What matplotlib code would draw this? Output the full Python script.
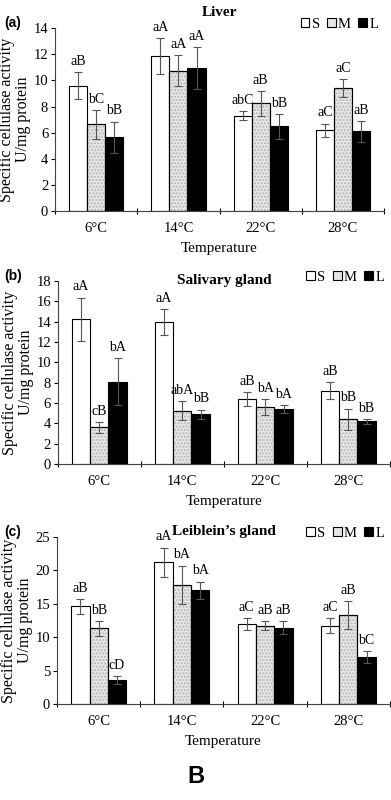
import numpy as np
import matplotlib
matplotlib.use("Agg")
import matplotlib.pyplot as plt
from matplotlib.patches import Patch

plt.rcParams['font.family'] = ['Liberation Serif', 'DejaVu Serif']

temps = ['6°C', '14°C', '22°C', '28°C']
sizes = ['S', 'M', 'L']

# Liver
liver_mean = [[9.6, 11.85, 7.3, 6.2],
              [6.65, 10.75, 8.25, 9.4],
              [5.65, 10.95, 6.5, 6.1]]
liver_err = [[1.0, 1.4, 0.35, 0.5],
             [1.1, 1.15, 0.95, 0.7],
             [1.2, 1.6, 0.95, 0.8]]
liver_lbl = [['aB', 'aA', 'abC', 'aC'],
             ['bC', 'aA', 'aB', 'aC'],
             ['bB', 'aA', 'bB', 'aB']]

# Salivary gland
saliv_mean = [[14.2, 13.95, 6.35, 7.2],
              [3.6, 5.25, 5.6, 4.4],
              [8.1, 4.9, 5.4, 4.2]]
saliv_err = [[2.15, 1.3, 0.7, 0.85],
             [0.55, 0.9, 0.8, 1.05],
             [2.3, 0.45, 0.35, 0.25]]
saliv_lbl = [['aA', 'aA', 'aB', 'aB'],
             ['cB', 'abA', 'bA', 'bB'],
             ['bA', 'bB', 'bA', 'bB']]

# Leiblein's gland
leib_mean = [[14.6, 21.2, 11.9, 11.7],
             [11.3, 17.8, 11.7, 13.3],
             [3.6, 17.0, 11.4, 7.0]]
leib_err = [[1.1, 2.2, 0.9, 1.1],
            [1.1, 2.9, 0.7, 2.1],
            [0.6, 1.3, 1.0, 0.9]]
leib_lbl = [['aB', 'aA', 'aC', 'aC'],
            ['bB', 'bA', 'aB', 'aB'],
            ['cD', 'bA', 'aB', 'bC']]

fills = ['white', '#e6e6e6', 'black']
w = 0.22

fig = plt.figure(figsize=(3.91, 8.0), dpi=100)


def panel(rect, mean, err, lbl, ymax, ystep, title, title_y, tag):
    ax = fig.add_axes(rect)
    x = np.arange(len(temps))
    for i in range(3):
        pos = x + (i - 1) * w
        ax.bar(pos, mean[i], w, color=fills[i], edgecolor='black', linewidth=0.8, zorder=2)
        if i == 1:
            ax.bar(pos, mean[i], w, color='none', edgecolor='#b5b5b5', hatch='.....',
                   linewidth=0, zorder=2)
            ax.bar(pos, mean[i], w, color='none', edgecolor='black', linewidth=0.8, zorder=2)
        ax.errorbar(pos, mean[i], yerr=err[i], fmt='none', ecolor='#555555',
                    elinewidth=0.8, capsize=3, capthick=0.8, zorder=3)
        for j in range(len(temps)):
            ax.annotate(lbl[i][j], (pos[j], mean[i][j] + err[i][j]), xytext=(0, 3),
                        textcoords='offset points', ha='center', va='bottom', fontsize=10)
    ax.set_xlim(-0.5, 3.5)
    ax.set_ylim(0, ymax)
    ax.set_yticks(np.arange(0, ymax + 0.1, ystep))
    ax.set_xticks(x)
    ax.set_xticklabels(temps, fontsize=10.5)
    ax.tick_params(axis='x', length=0, pad=8)
    ax.set_xticks(np.arange(-0.5, 3.6, 1), minor=True)
    ax.tick_params(axis='x', which='minor', length=4, direction='inout', width=0.8)
    ax.tick_params(axis='y', labelsize=10.5, length=3, width=0.8, pad=2)
    for s in ['top', 'right']:
        ax.spines[s].set_visible(False)
    ax.spines['left'].set_color('#444444')
    ax.spines['bottom'].set_color('#444444')
    ax.set_xlabel('Temperature', fontsize=11, labelpad=5)
    ax.set_ylabel('Specific cellulase activity\nU/mg protein', fontsize=11.5, labelpad=2,
                  linespacing=1.0)
    ax.text(0.5, title_y, title, transform=ax.transAxes, ha='center', va='center',
            fontsize=11, fontweight='bold')
    handles = [Patch(facecolor=fills[k], edgecolor='black', linewidth=0.8) for k in range(3)]
    ax.legend(handles, sizes, loc='center right', bbox_to_anchor=(1.0, 1.02), ncol=3,
              frameon=False, fontsize=10.5, handlelength=0.6, handleheight=0.6,
              handletextpad=0.15, columnspacing=0.5, borderaxespad=0)
    fig.text(0.012, rect[1] + rect[3] + 0.006, tag, fontsize=10, fontweight='bold',
             family='Liberation Sans', va='center', ha='left')
    return ax


panel([0.141, 0.736, 0.841, 0.229], liver_mean, liver_err, liver_lbl, 14, 2,
      'Liver', 1.085, '(a)')
panel([0.148, 0.42, 0.849, 0.229], saliv_mean, saliv_err, saliv_lbl, 18, 2,
      'Salivary gland', 1.0, '(b)')
panel([0.146, 0.12, 0.851, 0.209], leib_mean, leib_err, leib_lbl, 25, 5,
      'Leiblein\u2019s gland', 1.03, '(c)')

fig.text(0.5, 0.029, 'B', fontsize=17, fontweight='bold', family='Liberation Sans',
         ha='center', va='center')

fig.savefig('out.png', dpi=100)
